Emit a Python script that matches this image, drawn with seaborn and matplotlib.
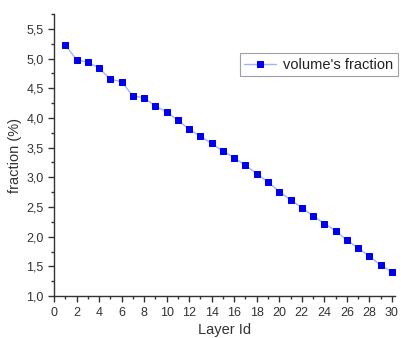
import matplotlib
matplotlib.use('Agg')
import matplotlib.pyplot as plt
import seaborn as sns
import pandas as pd
from matplotlib.ticker import MultipleLocator, FuncFormatter

# data
layer_id = list(range(1, 31))
fraction = [5.23, 4.98, 4.94, 4.84, 4.65, 4.61, 4.37, 4.34, 4.20, 4.10,
            3.96, 3.81, 3.69, 3.57, 3.44, 3.33, 3.20, 3.06, 2.92, 2.76,
            2.62, 2.49, 2.35, 2.22, 2.10, 1.94, 1.81, 1.67, 1.52, 1.41]
series_name = "volume's fraction"

df = pd.DataFrame({'Layer Id': layer_id, 'fraction': fraction})

sns.set_style('ticks')
plt.rcParams['font.family'] = ['Liberation Sans', 'DejaVu Sans']

fig = plt.figure(figsize=(4.01, 3.38), dpi=100)
ax = fig.add_axes([0.1347, 0.124, 0.851, 0.8346])

sns.lineplot(data=df, x='Layer Id', y='fraction', ax=ax, color='#9fb4ff', lw=1,
             marker='s', markersize=4.5, markerfacecolor='#0000ee',
             markeredgecolor='#0000ee', label=series_name)

ax.set_xlim(0, 30.3)
ax.set_ylim(1.0, 5.75)
ax.xaxis.set_major_locator(MultipleLocator(2))
ax.xaxis.set_minor_locator(MultipleLocator(1))
ax.yaxis.set_major_locator(MultipleLocator(0.5))
ax.yaxis.set_minor_locator(MultipleLocator(0.25))
ax.yaxis.set_major_formatter(FuncFormatter(lambda v, p: f'{v:.1f}'.replace('.', ',')))

for s in ['top', 'right']:
    ax.spines[s].set_visible(False)
for s in ['left', 'bottom']:
    ax.spines[s].set_color('#333333')
    ax.spines[s].set_linewidth(1.0)
ax.tick_params(which='major', length=4, width=1, color='#333333', labelsize=9, labelcolor='#333333')
ax.tick_params(which='minor', length=2, width=1, color='#333333')

ax.set_xlabel('Layer Id', fontsize=10.5, color='#333333', labelpad=3)
ax.set_ylabel('fraction (%)', fontsize=10.5, color='#333333', labelpad=3)

leg = ax.legend(loc='upper right', bbox_to_anchor=(1.008, 0.86), fontsize=10.5,
                frameon=True, fancybox=False, handlelength=2.2, borderpad=0.3,
                handletextpad=0.5, borderaxespad=0)
leg.get_frame().set_edgecolor('#888888')
leg.get_frame().set_linewidth(0.8)
for t in leg.get_texts():
    t.set_color('#222222')

fig.savefig('out.png', dpi=100)
